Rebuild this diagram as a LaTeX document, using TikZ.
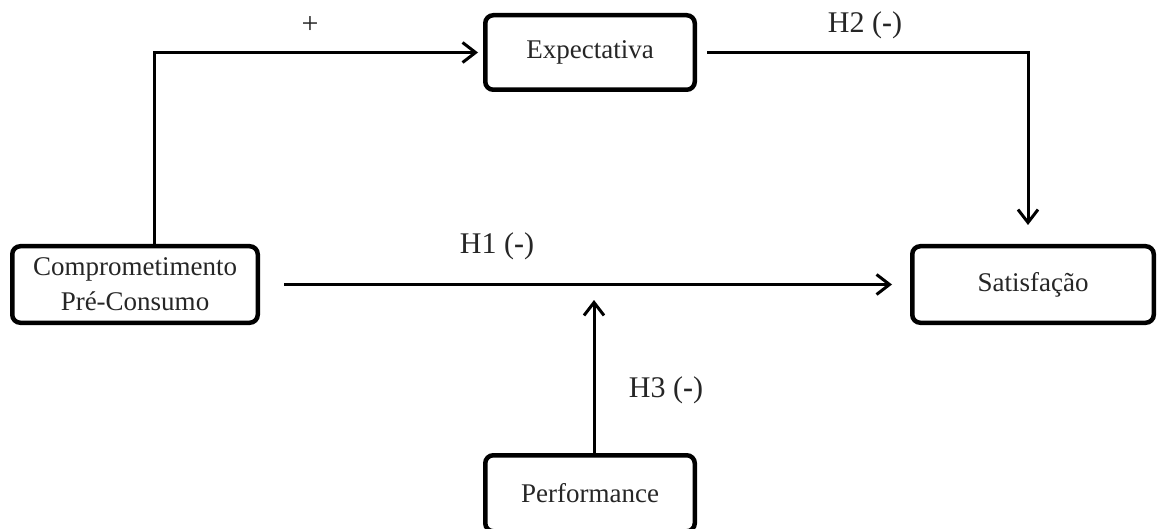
\documentclass[tikz,border=0pt]{standalone}
\usepackage{fontspec}
\setmainfont{Liberation Serif}
\usetikzlibrary{arrows.meta}
\tikzset{
  box/.style={draw=black, line width=4.5pt, rounded corners=8pt, inner sep=0pt,
    align=center, text=black!85, font=\fontsize{27}{35}\selectfont},
  conn/.style={draw=black, line width=3pt,
    -{Straight Barb[length=13pt,width=20pt,line width=3pt]}},
  lab/.style={text=black!85, font=\fontsize{30}{36}\selectfont, inner sep=0pt}
}
\begin{document}
\begin{tikzpicture}[x=1pt,y=-1pt]
\useasboundingbox (0,0) rectangle (1158,529);
\clip (0,0) rectangle (1158,529);
\fill[white] (0,0) rectangle (1158,529);
% nodes
\node[box, minimum width=245.5pt, minimum height=76.5pt] (comp) at (135,284.5) {Comprometimento\\Pré-Consumo};
\node[box, minimum width=209.5pt, minimum height=74.5pt] (expect) at (590,52.5) {Expectativa};
\node[box, minimum width=241.5pt, minimum height=76.5pt] (sat) at (1033,284.5) {Satisfação};
\node[box, minimum width=209.5pt, minimum height=76pt] (perf) at (590,493.25) {Performance};
\coordinate (h3end) at (594,300);
% connectors
\draw[conn, shorten >=5pt] ([xshift=19pt]comp.north) |- (expect.west);
\draw[conn, shorten <=10pt, shorten >=19pt] (expect.east) -| ([xshift=-5pt]sat.north);
\draw[conn, shorten <=24pt, shorten >=18pt] (comp.east) -- (sat.west);
\draw[conn] ([xshift=4pt]perf.north) -- (h3end);
% labels
\node[lab] (lplus) at (310,25) {+};
\node[lab] (lh2) at (865,25) {H2 (\textbf{-})};
\node[lab] (lh1) at (497,246) {H1 (\textbf{-})};
\node[lab] (lh3) at (666,390) {H3 (\textbf{-})};
\end{tikzpicture}
\end{document}
